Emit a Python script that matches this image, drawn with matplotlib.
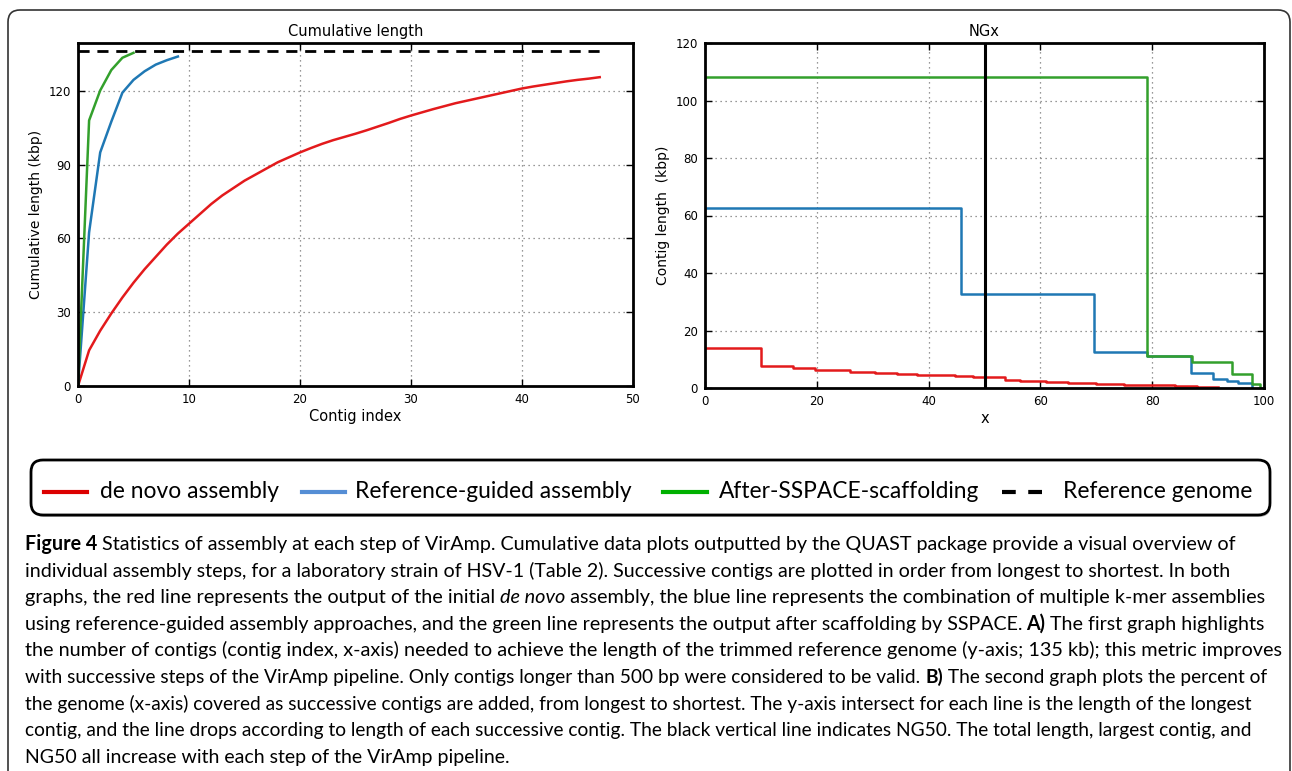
import matplotlib
matplotlib.use('Agg')
import matplotlib.pyplot as plt
from matplotlib.patches import FancyBboxPatch
from matplotlib.lines import Line2D

# cumulative length (kbp) against contig index
denovo_cum = [0, 14.5, 22.5, 29.5, 36, 42, 47.5, 52.5, 57.5, 62, 66, 70, 74, 77.5, 80.5,
              83.5, 86, 88.5, 91, 93, 95, 96.8, 98.5, 100, 101.3, 102.6, 104, 105.5, 107,
              108.6, 110, 111.3, 112.6, 113.8, 115, 116, 117, 118, 119, 120, 121, 121.8,
              122.5, 123.2, 123.9, 124.5, 125, 125.6]
refguided_cum = [0, 62.5, 95, 107.5, 119.3, 124.5, 128, 130.7, 132.5, 134]
sspace_cum = [0, 108, 120.2, 128.5, 133.5, 135.5]
reference_len = 136.3

# NGx: percent of genome where each contig starts, contig length (kbp)
denovo_ngx_x = [0, 10.1, 15.8, 19.7, 26.0, 30.4, 34.3, 37.9, 44.7, 48.0, 53.7, 56.3, 61,
                65, 70, 75, 79, 84, 88, 91.8]
denovo_ngx_y = [13.8, 7.8, 6.8, 6.4, 5.7, 5.2, 4.7, 4.4, 4.1, 3.8, 2.9, 2.4, 2.1, 1.9,
                1.5, 1.2, 0.9, 0.6, 0.3, 0.3]
refguided_ngx_x = [0, 45.8, 69.6, 79.1, 87.0, 90.9, 93.3, 95.4, 97.9]
refguided_ngx_y = [62.5, 32.7, 12.4, 11.2, 5.1, 3.1, 2.5, 1.6, 0]
sspace_ngx_x = [0, 79.1, 87.2, 94.2, 97.9, 99.3]
sspace_ngx_y = [108.2, 11.1, 8.9, 4.9, 1.4, 0]
ng50 = 50

labels = ['de novo assembly', 'Reference-guided assembly', 'After-SSPACE-scaffolding',
          'Reference genome']

# colours used in the plots and (a bit different) in the legend box
red, blue, green = '#E31A1C', '#1F78B4', '#33A02C'
leg_colors = ['#dc0000', '#558ed5', '#00b000', 'black']

caption = [
    [("Figure 4", 'b'), (" Statistics of assembly at each step of VirAmp. Cumulative data plots outputted by the QUAST package provide a visual overview of", 'n')],
    [("individual assembly steps, for a laboratory strain of HSV-1 (Table 2). Successive contigs are plotted in order from longest to shortest. In both", 'n')],
    [("graphs, the red line represents the output of the initial ", 'n'), ("de novo", 'i'), (" assembly, the blue line represents the combination of multiple k-mer assemblies", 'n')],
    [("using reference-guided assembly approaches, and the green line represents the output after scaffolding by SSPACE. ", 'n'), ("A)", 'b'), (" The first graph highlights", 'n')],
    [("the number of contigs (contig index, x-axis) needed to achieve the length of the trimmed reference genome (y-axis; 135 kb); this metric improves", 'n')],
    [("with successive steps of the VirAmp pipeline. Only contigs longer than 500 bp were considered to be valid. ", 'n'), ("B)", 'b'), (" The second graph plots the percent of", 'n')],
    [("the genome (x-axis) covered as successive contigs are added, from longest to shortest. The y-axis intersect for each line is the length of the longest", 'n')],
    [("contig, and the line drops according to length of each successive contig. The black vertical line indicates NG50. The total length, largest contig, and", 'n')],
    [("NG50 all increase with each step of the VirAmp pipeline.", 'n')],
]
# right end (px) of each caption line in the reference
caption_ends = [1234, 1223, 1264, 1265, 1279, 1267, 1247, 1249, 492]

W, H = 1292, 771
fig = plt.figure(figsize=(W / 100, H / 100), dpi=100)


def px(x, y):
    # pixel position (from top-left) -> inches from bottom-left
    return x / 100, (H - y) / 100


def style_axes(ax):
    for s in ax.spines.values():
        s.set_linewidth(2)
    ax.tick_params(direction='in', top=True, right=True, length=5, width=1,
                   labelsize=8.5, pad=5)
    ax.grid(True, linestyle=(0, (1, 3)), color='#777777', linewidth=0.9)


# ---- left: cumulative length
ax1 = fig.add_axes([78 / W, 1 - 386 / H, 555 / W, 343 / H])
ax1.plot(range(len(denovo_cum)), denovo_cum, color=red, lw=1.8)
ax1.plot(range(len(refguided_cum)), refguided_cum, color=blue, lw=1.8)
ax1.plot(range(len(sspace_cum)), sspace_cum, color=green, lw=1.8)
ax1.hlines(reference_len, 0, len(denovo_cum) - 1, colors='black', linestyles=(0, (4, 2.8)), lw=2)
ax1.set_xlim(0, 50)
ax1.set_ylim(0, 139.5)
ax1.set_xticks(range(0, 51, 10))
ax1.set_yticks(range(0, 121, 30))
ax1.set_title('Cumulative length', fontsize=10.5, pad=5)
ax1.set_xlabel('Contig index', fontsize=10.5, labelpad=2)
ax1.set_ylabel('Cumulative length (kbp)', fontsize=10)
style_axes(ax1)

# ---- right: NGx
ax2 = fig.add_axes([705 / W, 1 - 388 / H, 559 / W, 345 / H])
ax2.step(denovo_ngx_x, denovo_ngx_y, where='post', color=red, lw=1.8)
ax2.step(refguided_ngx_x, refguided_ngx_y, where='post', color=blue, lw=1.8)
ax2.step(sspace_ngx_x, sspace_ngx_y, where='post', color=green, lw=1.8)
ax2.axvline(ng50, color='black', lw=2.2, zorder=5)
ax2.set_xlim(0, 100)
ax2.set_ylim(0, 120)
ax2.set_xticks(range(0, 101, 20))
ax2.set_yticks(range(0, 121, 20))
ax2.set_title('NGx', fontsize=10.5, pad=5)
ax2.set_xlabel('x', fontsize=10.5, labelpad=2)
ax2.set_ylabel('Contig length  (kbp)', fontsize=10)
style_axes(ax2)

# ---- background layer for boxes, legend and caption
bg = fig.add_axes([0, 0, 1, 1], zorder=-1)
bg.axis('off')
tr = fig.dpi_scale_trans

x0, y0 = px(8, 10)
x1, _ = px(1290, 0)
outer = FancyBboxPatch((x0, -0.5), x1 - x0, y0 + 0.5, boxstyle='round,pad=0,rounding_size=0.12',
                       transform=tr, facecolor='white', edgecolor='#333333', lw=1.2)
bg.add_patch(outer)

lx0, ly0 = px(31, 515)
lx1, ly1 = px(1270, 460)
bg.add_patch(FancyBboxPatch((lx0 + 0.01, ly0 - 0.02), lx1 - lx0, ly1 - ly0,
                            boxstyle='round,pad=0,rounding_size=0.12', transform=tr,
                            facecolor='#bbbbbb', edgecolor='none'))
bg.add_patch(FancyBboxPatch((lx0, ly0), lx1 - lx0, ly1 - ly0,
                            boxstyle='round,pad=0,rounding_size=0.12', transform=tr,
                            facecolor='white', edgecolor='black', lw=2))

leg_line_x = [(44, 87), (302, 345), (663, 707), (1002, 1044)]
leg_text_x = [100, 355, 719, 1063]
for (a, b), tx, c, lab in zip(leg_line_x, leg_text_x, leg_colors, labels):
    ya = px(0, 492)[1]
    ls = (0, (3.3, 3.0)) if c == 'black' else '-'
    bg.add_line(Line2D([a / 100, b / 100], [ya, ya], transform=tr, color=c, lw=3, ls=ls))
    bg.text(tx / 100, ya, lab, transform=tr, fontsize=16.4, family='Lato', va='center', ha='left')

# caption: every segment on a common baseline, widths measured once
base_size = 13.8
cap_lines = []
for i, line in enumerate(caption):
    base_y = px(0, 550 + 26.6 * i)[1]
    segs = []
    for seg, st in line:
        kw = dict(fontsize=base_size, family='Lato')
        if st == 'b':
            kw['fontweight'] = 'bold'
        if st == 'i':
            kw['fontstyle'] = 'italic'
        segs.append(bg.text(0.25, base_y, seg, transform=tr, va='baseline', ha='left', **kw))
    cap_lines.append(segs)

fig.canvas.draw()
widths = [[t.get_window_extent().width for t in segs] for segs in cap_lines]
scales = [(end - 25) / sum(w) for w, end in zip(widths, caption_ends)]
scales[-1] = sum(scales[:-1]) / len(scales[:-1])

# fit each line to the justified width of the original
for segs, w, s in zip(cap_lines, widths, scales):
    x = 25
    for t, wi in zip(segs, w):
        t.set_fontsize(base_size * s)
        t.set_x(x / 100)
        x += wi * s

fig.savefig('out.png', dpi=100)
